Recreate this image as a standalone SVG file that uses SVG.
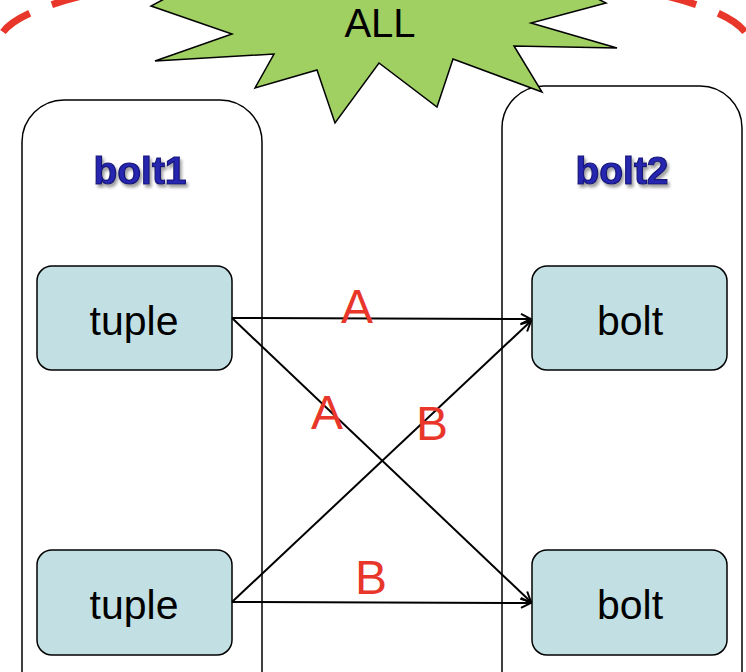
<svg xmlns="http://www.w3.org/2000/svg" width="746" height="672" viewBox="0 0 746 672">
<style>
.cont{fill:#fff;stroke:#000;stroke-width:1.5}
.node{fill:#c2e0e3;stroke:#000;stroke-width:1.5}
.nt{font-family:"Liberation Sans",Arial,sans-serif;font-size:41px;fill:#000;text-anchor:middle}
.lbl{font-family:"Liberation Sans",Arial,sans-serif;font-size:48px;fill:#e8372a;text-anchor:middle}
.title{font-family:"Liberation Sans",Arial,sans-serif;font-weight:bold;font-size:39px;text-anchor:middle;fill:#2626b0;stroke:#14147a;stroke-width:1.2;filter:url(#shadow)}
.conn line{stroke:#000;stroke-width:2;fill:none}
.ring{fill:none;stroke:#e8372a;stroke-width:7;stroke-dasharray:33,24}
</style>
<defs>
<marker id="arr" viewBox="0 0 12 12" refX="11" refY="6" markerWidth="12" markerHeight="12" markerUnits="userSpaceOnUse" orient="auto">
<path d="M1,1 L11,6 L1,11" fill="none" stroke="#000" stroke-width="2"/>
</marker>
<filter id="shadow" x="-20%" y="-30%" width="140%" height="160%">
<feDropShadow dx="2" dy="3" stdDeviation="1.5" flood-color="#777" flood-opacity="0.7"/>
</filter>
</defs>
<rect width="746" height="672" fill="#fff"/>
<g id="ring">
<path class="ring" d="M3,32 A375,75 0 0 1 374,-32"/>
<path class="ring" d="M745,32 A375,75 0 0 0 374,-32"/>
</g>
<g id="bolt1-container">
<rect class="cont" x="22" y="100" width="240" height="620" rx="42"/>
<text class="title" x="140" y="184">bolt1</text>
</g>
<g id="bolt2-container">
<rect class="cont" x="502" y="86" width="240" height="640" rx="42"/>
<text class="title" x="622" y="184">bolt2</text>
</g>
<g id="all-star">
<polygon points="151,6 232,34 155,61 274,54 255,88 317,70 335,123 379,63 437,107 453,59 542,92 514,46 617,48 531,23 606,3 560,-20 200,-20" fill="#a0cf62" stroke="#000" stroke-width="1.5"/>
<text x="380" y="37" font-family="'Liberation Sans',Arial,sans-serif" font-size="40" text-anchor="middle" fill="#000">ALL</text>
</g>
<g id="tuple1">
<rect class="node" x="37" y="266" width="195" height="104" rx="15"/>
<text class="nt" x="134" y="335">tuple</text>
</g>
<g id="tuple2">
<rect class="node" x="37" y="550" width="195" height="105" rx="15"/>
<text class="nt" x="134" y="619">tuple</text>
</g>
<g id="bolt-a">
<rect class="node" x="532" y="266" width="195" height="104" rx="15"/>
<text class="nt" x="630" y="335">bolt</text>
</g>
<g id="bolt-b">
<rect class="node" x="532" y="550" width="195" height="105" rx="15"/>
<text class="nt" x="630" y="619">bolt</text>
</g>
<g class="conn" id="connectors">
<line x1="232" y1="318" x2="531" y2="319" marker-end="url(#arr)"/>
<line x1="232" y1="318" x2="531" y2="602" marker-end="url(#arr)"/>
<line x1="232" y1="602" x2="531" y2="321" marker-end="url(#arr)"/>
<line x1="232" y1="602" x2="531" y2="603" marker-end="url(#arr)"/>
</g>
<g id="labels">
<text class="lbl" x="357" y="323">A</text>
<text class="lbl" x="327" y="429">A</text>
<text class="lbl" x="432" y="440">B</text>
<text class="lbl" x="371" y="594">B</text>
</g>
</svg>
